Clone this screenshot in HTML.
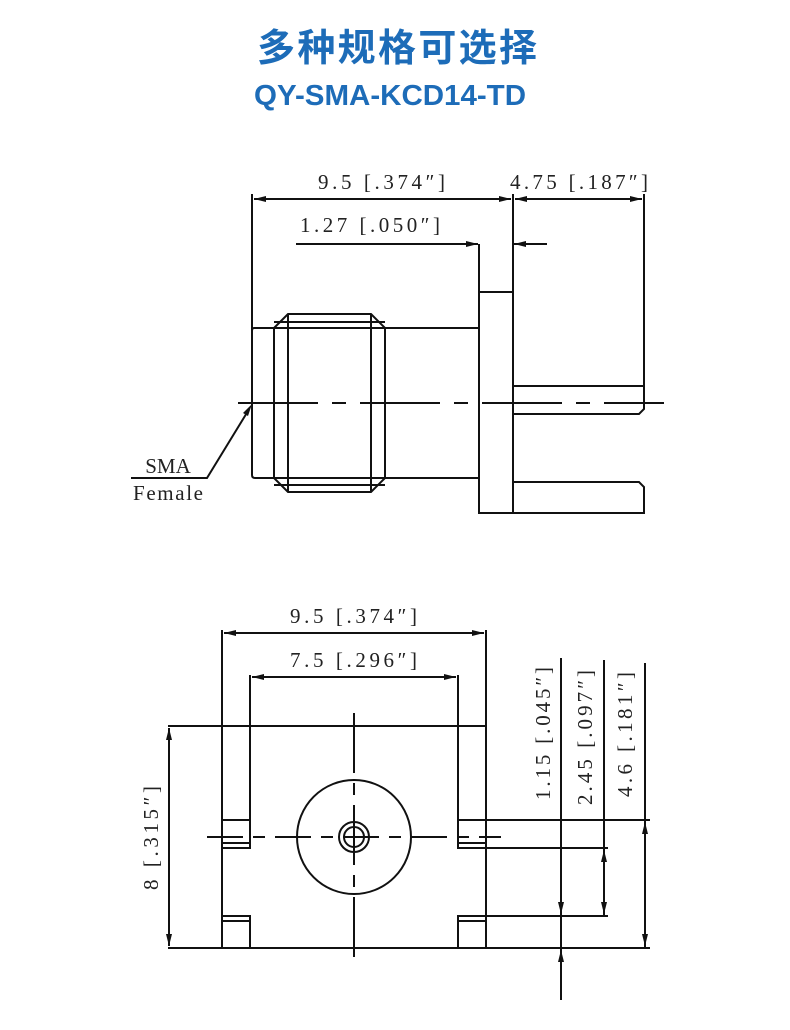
<!DOCTYPE html>
<html><head><meta charset="utf-8"><style>
html,body{margin:0;padding:0;background:#fff;}
svg{display:block;}
.d{font-family:"Liberation Serif","Noto Serif CJK SC",serif;font-size:21px;fill:#222;}
</style></head><body>
<svg width="790" height="1030" viewBox="0 0 790 1030" xmlns="http://www.w3.org/2000/svg">
<defs>
<marker id="a" viewBox="0 0 12 6" refX="12" refY="3" markerWidth="12" markerHeight="6" markerUnits="userSpaceOnUse" orient="auto-start-reverse"><path d="M0,0 L12,3 L0,6 Z" fill="#111"/></marker>
</defs>
<text x="397" y="61" text-anchor="middle" font-family="'Noto Sans CJK SC',sans-serif" font-weight="bold" font-size="38" fill="#1d6cb8" textLength="280">多种规格可选择</text>
<text x="390" y="105" text-anchor="middle" font-family="'Liberation Sans',sans-serif" font-weight="bold" font-size="29" fill="#1d6cb8" textLength="272" lengthAdjust="spacingAndGlyphs">QY-SMA-KCD14-TD</text>

<g stroke="#111" stroke-width="2" fill="none">
<line x1="252" y1="194" x2="252" y2="404"/>
<line x1="513" y1="194" x2="513" y2="244"/>
<line x1="644" y1="194" x2="644" y2="409"/>
<line x1="254" y1="199" x2="511" y2="199" marker-start="url(#a)" marker-end="url(#a)"/>
<line x1="515" y1="199" x2="642" y2="199" marker-start="url(#a)" marker-end="url(#a)"/>
<line x1="296" y1="244" x2="478" y2="244" marker-end="url(#a)"/>
<line x1="547" y1="244" x2="514" y2="244" marker-end="url(#a)"/>
<path d="M479,244 V513 H513 V244 M479,292 H513"/>
<path d="M479,328 H254 Q252,328 252,331 V475 Q252,478 255,478 H479"/>
<path d="M274,328 V478 M385,328 V478 M288,314 V492 M371,314 V492 M274,328 L288,314 H371 L385,328 M274,478 L288,492 H371 L385,478 M274,322 H385 M274,485 H385"/>
<path d="M513,386 H644 V409 L639,414 H513"/>
<path d="M513,482 H639 L644,487 V513 H513"/>
<line x1="238" y1="403" x2="664" y2="403" stroke-dasharray="80,14,14,14"/>
<path d="M131,478 H207 L248,411"/>
</g>
<path d="M252,404 L243,413 L248,416 Z" fill="#111"/>
<text class="d" x="318" y="189" textLength="127" lengthAdjust="spacing">9.5 [.374″]</text>
<text class="d" x="510" y="189" textLength="138" lengthAdjust="spacing">4.75 [.187″]</text>
<text class="d" x="300" y="232" textLength="140" lengthAdjust="spacing">1.27 [.050″]</text>
<text class="d" x="168" y="473" text-anchor="middle" font-size="18">SMA</text>
<text class="d" x="133" y="500" font-size="18" textLength="70" lengthAdjust="spacing">Female</text>

<g stroke="#111" stroke-width="2" fill="none">
<line x1="224" y1="633" x2="484" y2="633" marker-start="url(#a)" marker-end="url(#a)"/>
<line x1="252" y1="677" x2="456" y2="677" marker-start="url(#a)" marker-end="url(#a)"/>
<path d="M222,630 V948 M486,630 V948"/>
<path d="M250,675 V848 M458,675 V848"/>
<line x1="168" y1="726" x2="486" y2="726"/>
<line x1="168" y1="948" x2="650" y2="948"/>
<line x1="169" y1="728" x2="169" y2="946" marker-start="url(#a)" marker-end="url(#a)"/>
<path d="M222,820 H250 V848 H222 M222,843 H250"/>
<path d="M458,820 H650 M458,820 V848 H608 M458,843 H486"/>
<path d="M222,916 H250 V948 M222,921 H250"/>
<path d="M458,948 V916 H608 M458,921 H486"/>
<circle cx="354" cy="837" r="57"/>
<circle cx="354" cy="837" r="15"/>
<circle cx="354" cy="837" r="10"/>
<line x1="354" y1="713" x2="354" y2="963" stroke-dasharray="60,10,12,10"/>
<line x1="207" y1="837" x2="501" y2="837" stroke-dasharray="36,10,12,10"/>
<line x1="347" y1="837" x2="361" y2="837"/>
<line x1="561" y1="658" x2="561" y2="1000"/>
<line x1="604" y1="660" x2="604" y2="916"/>
<line x1="645" y1="663" x2="645" y2="948"/>
<line x1="561" y1="890" x2="561" y2="914" marker-end="url(#a)"/>
<line x1="561" y1="975" x2="561" y2="950" marker-end="url(#a)"/>
<line x1="604" y1="850" x2="604" y2="914" marker-start="url(#a)" marker-end="url(#a)"/>
<line x1="645" y1="822" x2="645" y2="946" marker-start="url(#a)" marker-end="url(#a)"/>
</g>
<text class="d" x="290" y="623" textLength="127" lengthAdjust="spacing">9.5 [.374″]</text>
<text class="d" x="290" y="667" textLength="127" lengthAdjust="spacing">7.5 [.296″]</text>
<text class="d" transform="translate(158,890) rotate(-90)" textLength="104" lengthAdjust="spacing">8 [.315″]</text>
<text class="d" transform="translate(550,800) rotate(-90)" textLength="133" lengthAdjust="spacing">1.15 [.045″]</text>
<text class="d" transform="translate(592,805) rotate(-90)" textLength="135" lengthAdjust="spacing">2.45 [.097″]</text>
<text class="d" transform="translate(632,797) rotate(-90)" textLength="125" lengthAdjust="spacing">4.6 [.181″]</text>
</svg>
</body></html>
